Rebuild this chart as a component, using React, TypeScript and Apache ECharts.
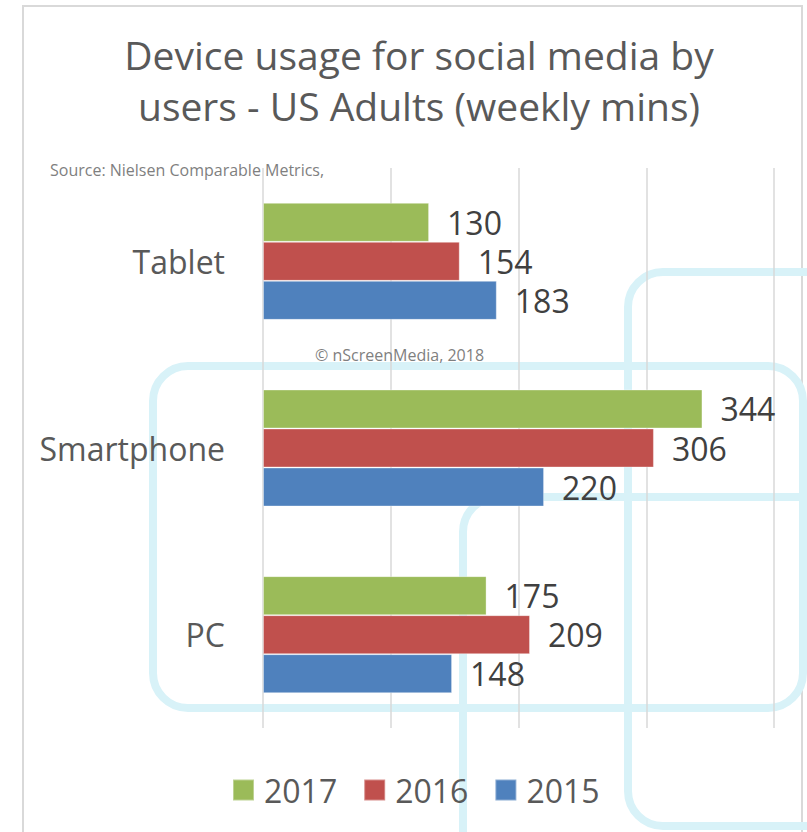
import React, { useEffect, useRef } from "react";
import * as echarts from "echarts";

const categories = ["PC", "Smartphone", "Tablet"];
const seriesNames = ["2017", "2016", "2015"];
const values2017 = [175, 344, 130];
const values2016 = [209, 306, 154];
const values2015 = [148, 220, 183];
const seriesColors = ["#9BBB59", "#C0504D", "#4F81BD"];
const xTicks = { min: 0, max: 400, interval: 100 };

const titleText = "Device usage for social media by\nusers - US Adults (weekly mins)";
const sourceText = "Source: Nielsen Comparable Metrics,";
const copyrightText = "© nScreenMedia, 2018";

const FONT = "'Open Sans', sans-serif";

export default function App() {
  const ref = useRef<HTMLDivElement>(null);

  useEffect(() => {
    if (!ref.current) return;
    const chart = echarts.init(ref.current, undefined, { renderer: "svg" });
    const dataSets = [values2017, values2016, values2015];
    const wmStyle = { fill: "none", stroke: "#d8f2f8", lineWidth: 8 };

    chart.setOption({
      animation: false,
      backgroundColor: "#ffffff",
      title: {
        text: titleText,
        left: 414,
        top: 24,
        textAlign: "center",
        textStyle: {
          fontFamily: FONT,
          fontSize: 39,
          fontWeight: "normal",
          color: "#595959",
          lineHeight: 51,
        },
      },
      legend: {
        data: seriesNames,
        left: 232,
        top: 774,
        itemWidth: 21,
        itemHeight: 21,
        itemGap: 26,
        padding: 0,
        icon: "rect",
        textStyle: {
          fontFamily: FONT,
          fontSize: 32,
          color: "#595959",
          lineHeight: 32,
          padding: [0, 0, 0, 5],
        },
      },
      grid: { left: 263, right: 33, top: 168, bottom: 104, containLabel: false },
      xAxis: {
        type: "value",
        min: xTicks.min,
        max: xTicks.max,
        interval: xTicks.interval,
        axisLabel: { show: false },
        axisLine: { show: false },
        axisTick: { show: false },
        splitLine: { show: true, lineStyle: { color: "#d9d9d9", width: 1.5 } },
      },
      yAxis: {
        type: "category",
        data: categories,
        axisLine: { show: false },
        axisTick: { show: false },
        axisLabel: {
          margin: 38,
          fontFamily: FONT,
          fontSize: 32,
          color: "#595959",
        },
      },
      graphic: [
        {
          type: "rect",
          z: -10,
          silent: true,
          shape: { x: 23, y: 6, width: 779, height: 900 },
          style: { fill: "none", stroke: "#d9d9d9", lineWidth: 2 },
        },
        {
          type: "rect",
          z: -10,
          silent: true,
          shape: { x: 153, y: 366, width: 650, height: 342, r: 35 },
          style: wmStyle,
        },
        {
          type: "rect",
          z: -10,
          silent: true,
          shape: { x: 628, y: 272, width: 320, height: 554, r: 35 },
          style: wmStyle,
        },
        {
          type: "rect",
          z: -10,
          silent: true,
          shape: { x: 463, y: 497, width: 420, height: 500, r: 35 },
          style: wmStyle,
        },
        {
          type: "text",
          z: 10,
          silent: true,
          x: 50,
          y: 170,
          style: {
            text: sourceText,
            fontFamily: FONT,
            fontSize: 16,
            fill: "#7f7f7f",
            textVerticalAlign: "middle",
          },
        },
        {
          type: "text",
          z: 10,
          silent: true,
          x: 315,
          y: 355,
          style: {
            text: copyrightText,
            fontFamily: FONT,
            fontSize: 16,
            fill: "#7f7f7f",
            textVerticalAlign: "middle",
          },
        },
      ],
      series: seriesNames.map((name, i) => ({
        name,
        type: "bar",
        data: dataSets[i],
        barGap: "0%",
        barCategoryGap: "37.3%",
        itemStyle: { color: seriesColors[i], borderColor: "rgba(255,255,255,0.35)", borderWidth: 1 },
        label: {
          show: true,
          position: "right",
          distance: 18,
          fontFamily: FONT,
          fontSize: 32,
          color: "#404040",
        },
      })),
    });

    return () => chart.dispose();
  }, []);

  return (
    <div
      ref={ref}
      style={{ position: "absolute", left: 0, top: 0, width: 807, height: 832 }}
    />
  );
}
